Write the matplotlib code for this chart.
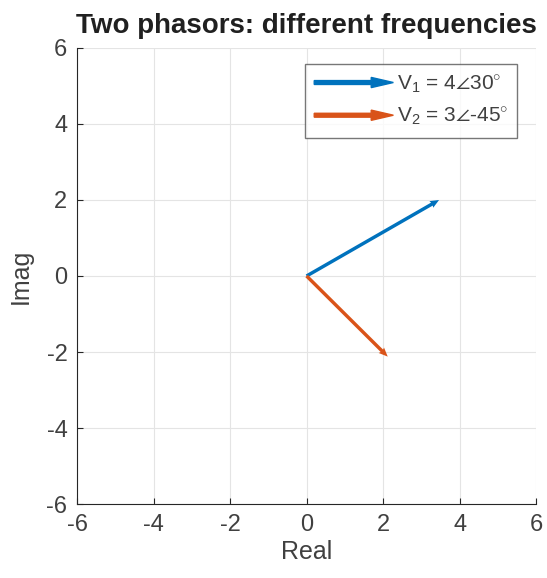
import numpy as np
import matplotlib
matplotlib.use('Agg')
import matplotlib.pyplot as plt
import matplotlib.patches as mpatches
from matplotlib.legend_handler import HandlerPatch

# phasor data
mags = [4, 3]
angles_deg = [30, -45]
labels = [r'V$_1$ = 4$\angle$30$^{\circ}$', r'V$_2$ = 3$\angle$-45$^{\circ}$']
colors = ['#0072BD', '#D95319']
ticks = [-6, -4, -2, 0, 2, 4, 6]

plt.rcParams['font.family'] = ['Liberation Sans', 'DejaVu Sans']
plt.rcParams['mathtext.fontset'] = 'custom'
plt.rcParams['mathtext.rm'] = 'Liberation Sans'
plt.rcParams['mathtext.it'] = 'Liberation Sans'
plt.rcParams['axes.unicode_minus'] = False

txt = '#404040'

fig = plt.figure(figsize=(5.47, 5.78), dpi=100)
ax = fig.add_axes([0.141, 0.128, 0.839, 0.789])

handles = []
for m, a, c, lab in zip(mags, angles_deg, colors, labels):
    x = m * np.cos(np.deg2rad(a))
    y = m * np.sin(np.deg2rad(a))
    ax.quiver(0, 0, x, y, angles='xy', scale_units='xy', scale=1, color=c,
              width=0.0075, headwidth=2.2, headlength=2.6, headaxislength=2.4)
    handles.append(mpatches.FancyArrow(0, 0, 1, 0, color=c, label=lab))


def make_arrow(legend, orig_handle, xdescent, ydescent, width, height, fontsize):
    return mpatches.FancyArrow(0, 0.5 * height, width, 0, length_includes_head=True,
                               width=2.8, head_width=0.7 * height,
                               head_length=0.28 * width, color=orig_handle.get_facecolor())


leg = ax.legend(handles=handles, loc='upper right', fontsize=15,
                handler_map={mpatches.FancyArrow: HandlerPatch(patch_func=make_arrow)},
                handlelength=3.8, handletextpad=0.15, borderpad=0.45,
                borderaxespad=0, fancybox=False, edgecolor='#555555',
                bbox_to_anchor=(0.959, 0.965), labelspacing=0.5)
leg.get_frame().set_linewidth(1.0)
for t in leg.get_texts():
    t.set_color(txt)

ax.set_xlim(-6, 6)
ax.set_ylim(-6, 6)
ax.set_xticks(ticks)
ax.set_yticks(ticks)
ax.grid(True, color='#e4e4e4', lw=0.8)
ax.set_axisbelow(True)
ax.spines['top'].set_visible(False)
ax.spines['right'].set_visible(False)
for s in ['left', 'bottom']:
    ax.spines[s].set_color('#262626')
    ax.spines[s].set_linewidth(0.8)
ax.tick_params(direction='in', length=4, labelsize=17, colors='#262626',
               labelcolor=txt, pad=7)
ax.set_xlabel('Real', fontsize=18, color=txt, labelpad=3)
ax.set_ylabel('Imag', fontsize=18, color=txt, labelpad=10)
ax.set_title('Two phasors: different frequencies', fontsize=20, fontweight='bold',
             color='#202020', pad=11)

fig.savefig('out.png', dpi=100)
